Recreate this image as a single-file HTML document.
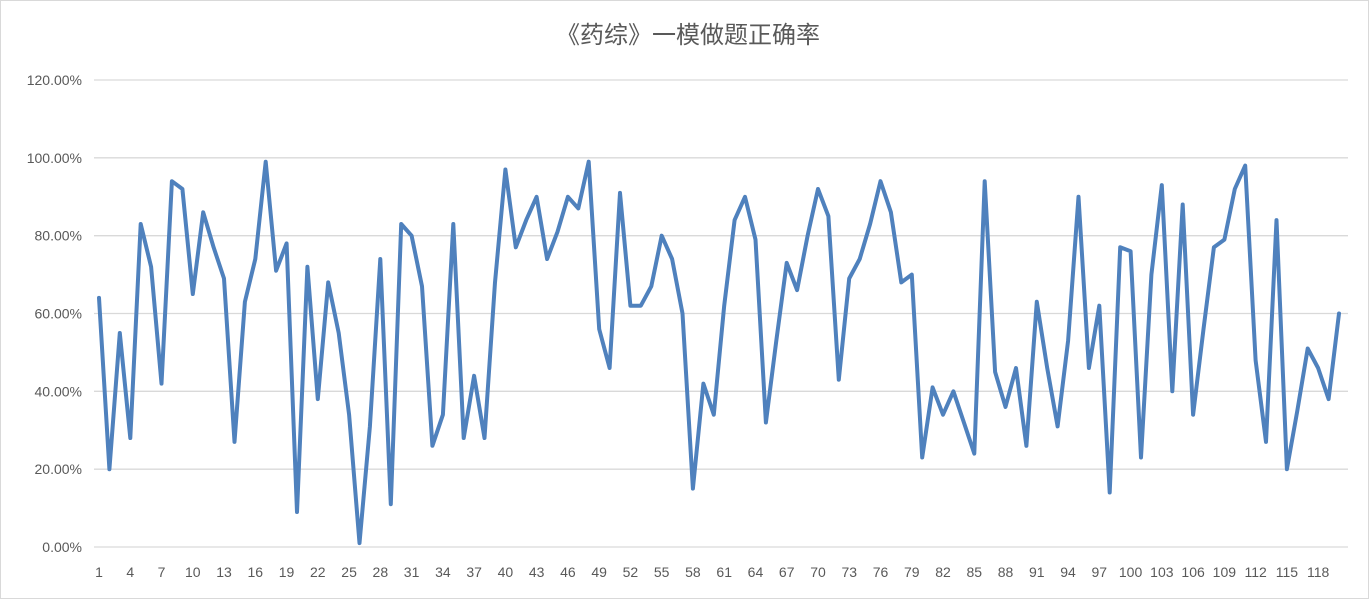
<!DOCTYPE html>
<html><head><meta charset="utf-8"><style>
html,body{margin:0;padding:0;background:#fff;}
svg{display:block;font-family:"Liberation Sans","Noto Sans CJK SC",sans-serif;}
</style></head><body>
<svg id="s" width="1369" height="599" xmlns="http://www.w3.org/2000/svg">
<rect x="0.5" y="0.5" width="1368" height="598" fill="#fff" stroke="#d9d9d9"/>
<text x="688" y="43" text-anchor="middle" font-size="24" fill="#595959" font-family="'Liberation Sans','Noto Sans CJK SC',sans-serif">《药综》一模做题正确率</text>
<g id="g"></g>
</svg>
<script>
var v=[64,20,55,28,83,72,42,94,92,65,86,77,69,27,63,74,99,71,78,9,72,38,68,55,34,1,31,74,11,83,80,67,26,34,83,28,44,28,68,97,77,84,90,74,81,90,87,99,56,46,91,62,62,67,80,74,60,15,42,34,62,84,90,79,32,53,73,66,80,92,85,43,69,74,83,94,86,68,70,23,41,34,40,32,24,94,45,36,46,26,63,46,31,53,90,46,62,14,77,76,23,70,93,40,88,34,56,77,79,92,98,48,27,84,20,35,51,46,38,60];
var g=document.getElementById('g'),h='';
function Y(p){return 547-p*(467/120);}
for(var i=0;i<=6;i++){var y=Y(i*20);
h+='<line x1="94" x2="1348" y1="'+y+'" y2="'+y+'" stroke="#d9d9d9" stroke-width="1.3"/>';
h+='<text x="82" y="'+(y+5)+'" text-anchor="end" font-size="14" fill="#595959">'+(i*20).toFixed(2)+'%</text>';}
function X(i){return 99+i*10.42;}
for(var i=0;i<120;i+=3){h+='<text x="'+X(i)+'" y="577" text-anchor="middle" font-size="14" fill="#595959">'+(i+1)+'</text>';}
var pts=v.map(function(p,i){return X(i).toFixed(1)+','+Y(p).toFixed(1)}).join(' ');
h+='<polyline points="'+pts+'" fill="none" stroke="#4f81bd" stroke-width="4" stroke-linejoin="round" stroke-linecap="round"/>';
g.innerHTML=h;
</script>
</body></html>
